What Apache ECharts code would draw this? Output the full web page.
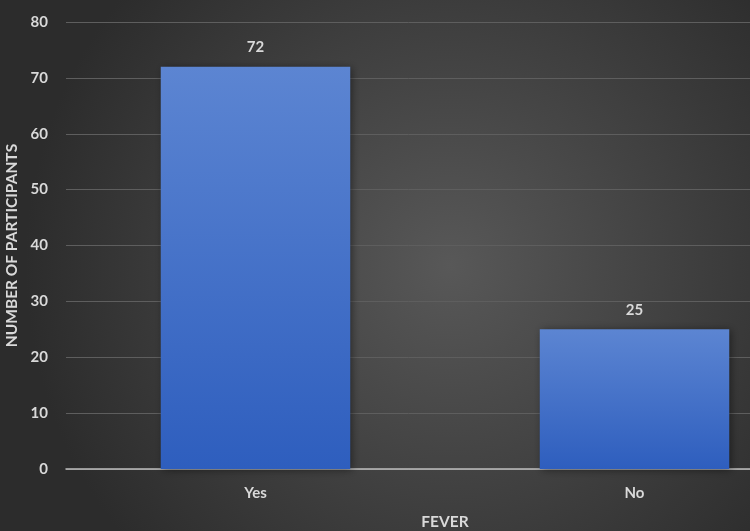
<!DOCTYPE html>
<html><head><meta charset="utf-8">
<script src="https://cdn.jsdelivr.net/npm/echarts@6/dist/echarts.min.js"></script>
<style>html,body{margin:0;padding:0;}#c{width:750px;height:531px;}</style>
</head><body><div id="c"></div>
<script>
const categories = ['Yes', 'No'];
const values = [72, 25];
const yTicks = [0, 10, 20, 30, 40, 50, 60, 70, 80];

const chart = echarts.init(document.getElementById('c'));
const font = 'Lato, "Open Sans", sans-serif';
chart.setOption({
  backgroundColor: {
    type: 'radial', x: 0.6, y: 0.5, r: 0.8,
    colorStops: [{offset: 0, color: '#585858'}, {offset: 1, color: '#2c2c2c'}]
  },
  grid: {left: 66, width: 758, top: 22, height: 447, containLabel: false, outerBoundsMode: 'none'},
  xAxis: {
    type: 'category', data: categories,
    name: 'FEVER', nameLocation: 'middle', nameGap: 45,
    nameTextStyle: {color: '#d9d9d9', fontWeight: 'bold', fontSize: 15.5, fontFamily: font},
    axisLine: {lineStyle: {color: '#bfbfbf', width: 1.5}},
    axisTick: {show: false},
    axisLabel: {color: '#d9d9d9', fontWeight: 'bold', fontSize: 15, fontFamily: font, margin: 17}
  },
  yAxis: {
    type: 'value', min: yTicks[0], max: yTicks[yTicks.length - 1], interval: 10,
    name: 'NUMBER OF PARTICIPANTS', nameLocation: 'middle', nameGap: 45,
    nameTextStyle: {color: '#d9d9d9', fontWeight: 'bold', fontSize: 15.5, fontFamily: font},
    axisLine: {show: false}, axisTick: {show: false},
    axisLabel: {color: '#d9d9d9', fontWeight: 'bold', fontSize: 15, fontFamily: font, margin: 18},
    splitLine: {lineStyle: {color: '#5e5e5e', width: 1}}
  },
  series: [{
    type: 'bar', data: values, barWidth: '50%',
    itemStyle: {
      color: {type: 'linear', x: 0, y: 0, x2: 0, y2: 1,
        colorStops: [{offset: 0, color: '#5c85d2'}, {offset: 1, color: '#2e5ebe'}]},
      shadowColor: 'rgba(0,0,0,0.45)', shadowBlur: 8, shadowOffsetX: 2, shadowOffsetY: 1
    },
    label: {show: true, position: 'top', distance: 12, color: '#d9d9d9', fontWeight: 'bold', fontSize: 15, fontFamily: font}
  }]
});
</script></body></html>
